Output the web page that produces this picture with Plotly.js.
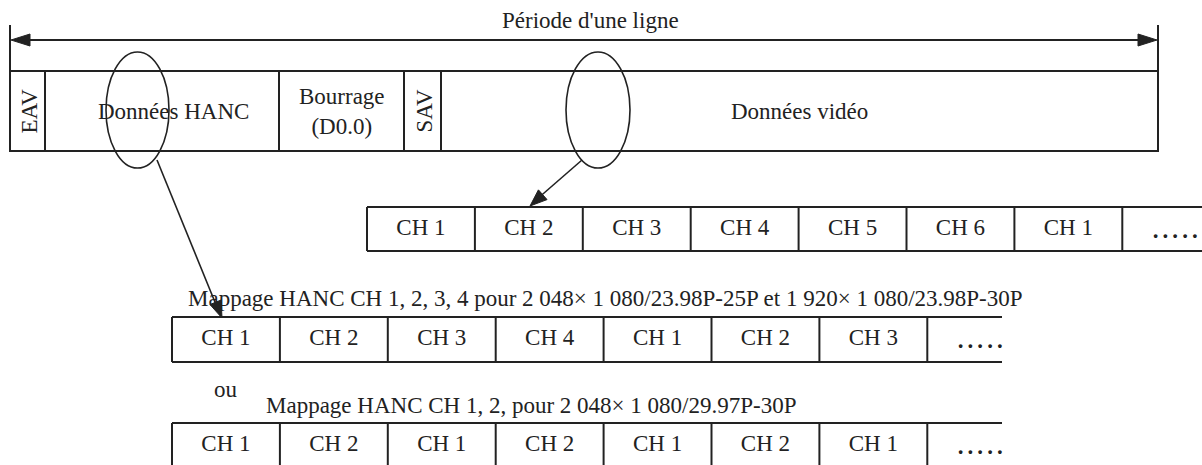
<!DOCTYPE html>
<html>
<head>
<meta charset="utf-8">
<script src="https://cdn.plot.ly/plotly-3.0.1.min.js"></script>
<style>html,body{margin:0;padding:0;background:#fff;}#chart{width:1202px;height:465px;}</style>
</head>
<body>
<div id="chart"></div>
<script>
// ---- Data (labels) ----
const periodTitle = "Période d'une ligne";
const lineSegments = ["EAV", "Données HANC", "Bourrage<br>(D0.0)", "SAV", "Données vidéo"];
const videoChannels = ["CH 1", "CH 2", "CH 3", "CH 4", "CH 5", "CH 6", "CH 1", "....."];
const hanc4Channels = ["CH 1", "CH 2", "CH 3", "CH 4", "CH 1", "CH 2", "CH 3", "....."];
const hanc2Channels = ["CH 1", "CH 2", "CH 1", "CH 2", "CH 1", "CH 2", "CH 1", "....."];
const hanc4Caption = "Mappage HANC CH 1, 2, 3, 4 pour 2 048× 1 080/23.98P-25P et 1 920× 1 080/23.98P-30P";
const hanc2Caption = "Mappage HANC CH 1, 2, pour 2 048× 1 080/29.97P-30P";
const orText = "ou";

// ---- Layout constants ----
const W = 1202, H = 465;
const INK = '#222';
const FONT = 'Liberation Serif, Times New Roman, serif';
const FS = 23;

const segEdges = [10, 45, 279, 404, 441, 1158];
const topBox = {y0: 71, y1: 151};
const arrowY = 40, tickTop = 25;

const cellW = 107.9;
const row2 = {x0: 367, y0: 207, y1: 251, xEnd: 1202};
const row3 = {x0: 172, y0: 317, y1: 362, xEnd: 1002};
const row4 = {x0: 172, y0: 423, y1: 468, xEnd: 1002};

const shapes = [];
const annotations = [];
const line = (x0, y0, x1, y1, w) => shapes.push({type: 'line', xref: 'x', yref: 'y', x0, y0, x1, y1, line: {color: INK, width: w || 2}});
function arrowHead(xt, yt, xs, ys, len, wid) {
  const dx = xt - xs, dy = yt - ys, L = Math.hypot(dx, dy);
  const ux = dx / L, uy = dy / L, px = -uy, py = ux;
  const bx = xt - ux * len, by = yt - uy * len;
  const p = `M${xt},${yt} L${bx + px * wid / 2},${by + py * wid / 2} L${bx - px * wid / 2},${by - py * wid / 2} Z`;
  shapes.push({type: 'path', xref: 'x', yref: 'y', path: p, fillcolor: INK, line: {color: INK, width: 1}});
}

// Period arrow
line(segEdges[0], tickTop, segEdges[0], topBox.y0, 2);
line(segEdges[5], tickTop, segEdges[5], topBox.y0, 2);
line(segEdges[0] + 10, arrowY, segEdges[5] - 10, arrowY, 2.2);
arrowHead(segEdges[0] + 1, arrowY, segEdges[5], arrowY, 19, 12);
arrowHead(segEdges[5] - 1, arrowY, segEdges[0], arrowY, 19, 12);
annotations.push({x: 590, y: 20, xref: 'x', yref: 'y', text: periodTitle, showarrow: false, font: {family: FONT, size: FS, color: INK}});

// Top box
shapes.push({type: 'rect', xref: 'x', yref: 'y', x0: segEdges[0], x1: segEdges[5], y0: topBox.y0, y1: topBox.y1, line: {color: INK, width: 2}});
for (let i = 1; i < segEdges.length - 1; i++) line(segEdges[i], topBox.y0, segEdges[i], topBox.y1, 2);
const yMid = (topBox.y0 + topBox.y1) / 2;
lineSegments.forEach((t, i) => {
  const xc = (segEdges[i] + segEdges[i + 1]) / 2;
  const rot = (i === 0 || i === 3);
  annotations.push({x: xc + (i === 1 ? 11 : 0) + (rot ? 1 : 0), y: yMid, xref: 'x', yref: 'y', text: t, showarrow: false, textangle: rot ? -90 : 0,
    font: {family: FONT, size: FS, color: INK}});
});

// Ellipses
shapes.push({type: 'circle', xref: 'x', yref: 'y', x0: 106, x1: 169, y0: 52, y1: 168, line: {color: INK, width: 1.6}});
shapes.push({type: 'circle', xref: 'x', yref: 'y', x0: 566, x1: 630, y0: 52, y1: 168, line: {color: INK, width: 1.6}});

// Diagonal arrows
line(157, 160, 219, 312, 1.6);
arrowHead(222, 318, 157, 160, 17, 12);
line(582, 160, 536, 200, 1.6);
arrowHead(530, 206, 582, 160, 17, 13);

// Channel rows
function drawRow(row, labels) {
  line(row.x0, row.y0, row.xEnd, row.y0, 2);
  line(row.x0, row.y1, row.xEnd, row.y1, 2);
  const xs = [], ys = [], txt = [];
  const yc = (row.y0 + row.y1) / 2;
  for (let k = 0; k < labels.length; k++) {
    const xe = row.x0 + k * cellW;
    line(xe, row.y0, xe, row.y1, 2);
    const lab = labels[k];
    const isDots = /^\.+$/.test(lab);
    xs.push(xe + cellW / 2 + (isDots ? -1 : 0));
    ys.push(yc + (isDots ? 3 : 0));
    txt.push(isDots ? '<b><span style="letter-spacing:4.1px">' + lab.slice(0, -1) + '</span>' + lab.slice(-1) + '</b>' : lab);
  }
  return {
    type: 'scatter', mode: 'text', x: xs, y: ys, text: txt,
    textposition: 'middle center', cliponaxis: false, hoverinfo: 'skip', showlegend: false,
    textfont: {family: FONT, size: FS, color: INK}
  };
}
const traces = [drawRow(row2, videoChannels), drawRow(row3, hanc4Channels), drawRow(row4, hanc2Channels)];

annotations.push({x: 605, y: 298, xref: 'x', yref: 'y', text: hanc4Caption, showarrow: false, font: {family: FONT, size: FS, color: INK}});
annotations.push({x: 226, y: 389, xref: 'x', yref: 'y', text: orText, showarrow: false, font: {family: FONT, size: FS, color: INK}});
annotations.push({x: 531, y: 405, xref: 'x', yref: 'y', text: hanc2Caption, showarrow: false, font: {family: FONT, size: FS, color: INK}});

const layout = {
  width: W, height: H, margin: {l: 0, r: 0, t: 0, b: 0},
  paper_bgcolor: '#fff', plot_bgcolor: '#fff', showlegend: false,
  xaxis: {range: [0, W], visible: false, fixedrange: true},
  yaxis: {range: [H, 0], visible: false, fixedrange: true},
  shapes, annotations
};
Plotly.newPlot('chart', traces, layout, {displayModeBar: false, staticPlot: true});
</script>
</body>
</html>
